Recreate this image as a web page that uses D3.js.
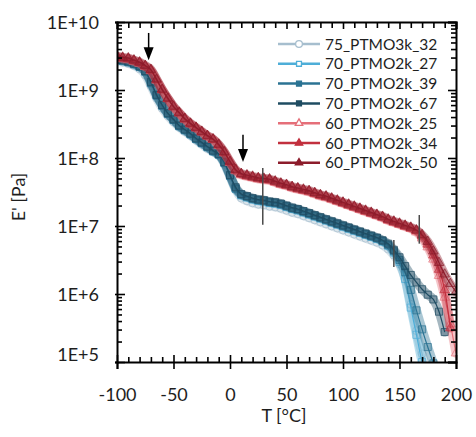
<!DOCTYPE html>
<html>
<head>
<meta charset="utf-8">
<script src="https://cdn.jsdelivr.net/npm/d3@7"></script>
<style>
  html, body { margin: 0; padding: 0; background: #fff; }
  svg { display: block; }
  text { font-family: Lato, "Open Sans", sans-serif; }
</style>
</head>
<body>
<svg id="chart" width="476" height="437"></svg>
<script>
// ---------------- data (log10 of E' in Pa) ----------------
const temps = [-100,-95,-90,-85,-80,-75,-70,-65,-60,-55,-50,-45,-40,-35,-30,-25,-20,-15,-10,-5,
  0,5,10,15,20,25,30,35,40,45,50,55,60,65,70,75,80,85,90,95,100,105,110,115,120,125,130,135,140,145,
  150,155,160,165,170,175,180,185,190,195,200];

const s75_PTMO3k_32 = [9.42,9.41,9.39,9.36,9.31,9.22,9.06,8.88,8.73,8.62,8.53,8.45,8.39,8.33,8.26,8.20,8.14,8.09,8.04,7.91,
  7.72,7.53,7.41,7.37,7.34,7.32,7.31,7.29,7.28,7.26,7.23,7.20,7.18,7.15,7.12,7.09,7.06,7.03,7.00,6.97,6.94,6.91,6.88,6.85,6.82,6.79,6.76,6.72,6.66,6.57,
  6.44,6.22,5.85,5.46,5.12,4.85,null,null,null,null,null];
const s70_PTMO2k_27 = [9.44,9.43,9.41,9.38,9.34,9.27,9.11,8.92,8.77,8.65,8.56,8.47,8.41,8.35,8.28,8.22,8.16,8.10,8.05,7.93,
  7.74,7.55,7.45,7.42,7.39,7.37,7.36,7.34,7.33,7.31,7.28,7.25,7.23,7.20,7.17,7.14,7.11,7.08,7.05,7.02,6.99,6.96,6.93,6.90,6.87,6.84,6.81,6.77,6.71,6.61,
  6.47,6.22,5.80,5.40,5.00,4.70,null,null,null,null,null];
const s70_PTMO2k_39 = [9.44,9.43,9.41,9.38,9.34,9.27,9.10,8.92,8.77,8.65,8.56,8.47,8.41,8.35,8.28,8.22,8.16,8.10,8.05,7.93,
  7.74,7.55,7.46,7.43,7.40,7.38,7.37,7.35,7.34,7.32,7.29,7.26,7.24,7.21,7.18,7.15,7.12,7.09,7.06,7.03,7.00,6.97,6.94,6.91,6.88,6.85,6.82,6.78,6.72,6.63,
  6.50,6.32,6.06,5.76,5.48,5.22,4.98,null,null,null,null];
const s70_PTMO2k_67 = [9.45,9.44,9.42,9.39,9.35,9.28,9.12,8.93,8.78,8.66,8.57,8.48,8.42,8.36,8.29,8.23,8.17,8.11,8.06,7.94,
  7.75,7.57,7.47,7.44,7.41,7.39,7.38,7.36,7.35,7.33,7.30,7.27,7.25,7.22,7.19,7.16,7.13,7.10,7.07,7.04,7.01,6.98,6.95,6.92,6.89,6.86,6.83,6.79,6.74,6.65,
  6.54,6.41,6.28,6.17,6.07,5.99,5.92,5.74,5.44,null,null];
const s60_PTMO2k_25 = [9.48,9.46,9.45,9.42,9.39,9.34,9.28,9.14,9.00,8.87,8.75,8.66,8.57,8.50,8.44,8.38,8.32,8.27,8.18,8.07,
  7.93,7.81,7.75,7.73,7.71,7.69,7.68,7.67,7.64,7.61,7.59,7.56,7.54,7.52,7.50,7.47,7.44,7.42,7.39,7.36,7.33,7.30,7.27,7.24,7.21,7.18,7.15,7.12,7.08,7.05,
  7.02,6.99,6.96,6.91,6.82,6.69,6.51,6.27,5.95,5.56,5.13];
const s60_PTMO2k_34 = [9.49,9.47,9.46,9.43,9.40,9.35,9.29,9.15,9.00,8.87,8.75,8.66,8.57,8.50,8.44,8.38,8.32,8.27,8.19,8.08,
  7.94,7.82,7.76,7.74,7.72,7.70,7.69,7.68,7.65,7.62,7.60,7.57,7.55,7.53,7.51,7.48,7.45,7.43,7.40,7.37,7.34,7.31,7.28,7.25,7.22,7.19,7.16,7.13,7.09,7.06,
  7.03,7.00,6.97,6.93,6.85,6.73,6.57,6.36,6.06,5.50,null];
const s60_PTMO2k_50 = [9.50,9.48,9.47,9.44,9.41,9.36,9.30,9.16,9.01,8.88,8.76,8.67,8.58,8.51,8.45,8.39,8.33,8.28,8.20,8.09,
  7.95,7.83,7.77,7.75,7.73,7.71,7.70,7.69,7.66,7.63,7.61,7.58,7.56,7.54,7.52,7.49,7.46,7.44,7.41,7.38,7.35,7.32,7.29,7.26,7.23,7.20,7.17,7.14,7.10,7.07,
  7.04,7.01,6.98,6.94,6.87,6.77,6.63,6.46,6.29,6.15,6.03];

const seriesNames = ["75_PTMO3k_32","70_PTMO2k_27","70_PTMO2k_39","70_PTMO2k_67","60_PTMO2k_25","60_PTMO2k_34","60_PTMO2k_50"];
const seriesValues = [s75_PTMO3k_32, s70_PTMO2k_27, s70_PTMO2k_39, s70_PTMO2k_67, s60_PTMO2k_25, s60_PTMO2k_34, s60_PTMO2k_50];
const seriesColors = ["#a6bece","#4eaed8","#2b7393","#1f4c62","#e56f79","#c2303e","#8c1c2b"];
const seriesSymbols = ["circle","square","square","square","triangle","triangle","triangle"];
const seriesFilled = [false,false,true,true,false,true,true];

const xTickValues = [-100,-50,0,50,100,150,200];
const xMinorValues = [-90,-80,-70,-60,-40,-30,-20,-10,10,20,30,40,60,70,80,90,110,120,130,140,160,170,180,190];
const yTickValues = [1e5,1e6,1e7,1e8,1e9,1e10];
const yTickLabels = ["1E+5","1E+6","1E+7","1E+8","1E+9","1E+10"];

// annotations: arrows (T, top E, tip E) and vertical bars (T, top E, bottom E)
const arrowT = [-72, 11.5];
const arrowTopE = [6.9e9, 2.2e8];
const arrowTipE = [2.75e9, 8.7e7];
const barT = [29, 145, 167.5];
const barTopE = [7.1e7, 6.2e6, 1.45e7];
const barBottomE = [1.04e7, 2.5e6, 5.5e6];

// ---------------- chart ----------------
const svg = d3.select("#chart");
const L = 117, R = 456, T = 22, B = 362;
const TXT = "#1e1e1e";
const x = d3.scaleLinear().domain([-100, 200]).range([L, R]);
const y = d3.scaleLog().domain([1e5, 1e10]).range([B, T]);

svg.append("defs").append("clipPath").attr("id", "clip")
  .append("rect").attr("x", L).attr("y", T).attr("width", R - L).attr("height", B - T);

const symbolType = { circle: d3.symbolCircle, square: d3.symbolSquare, triangle: d3.symbolTriangle };
const symbolSize = { circle: 48, square: 50, triangle: 40 };

const plot = svg.append("g").attr("clip-path", "url(#clip)");

seriesValues.forEach((vals, i) => {
  const pts = temps.map((t, k) => ({ t, v: vals[k] })).filter(d => d.v !== null).map(d => ({ t: d.t, e: Math.pow(10, d.v) }));
  const line = d3.line().x(d => x(d.t)).y(d => y(d.e)).curve(d3.curveMonotoneX);
  const g = plot.append("g");
  g.append("path").attr("d", line(pts)).attr("fill", "none")
    .attr("stroke", seriesColors[i]).attr("stroke-width", 9).attr("stroke-opacity", 0.4)
    .attr("stroke-linejoin", "round").attr("stroke-linecap", "round");
  const sym = d3.symbol().type(symbolType[seriesSymbols[i]]).size(symbolSize[seriesSymbols[i]]);
  g.selectAll("path.m").data(pts).join("path").attr("class", "m")
    .attr("transform", d => `translate(${x(d.t)},${y(d.e)})`)
    .attr("d", sym())
    .attr("fill", seriesFilled[i] ? seriesColors[i] : "none")
    .attr("fill-opacity", 0.3)
    .attr("stroke", seriesColors[i]).attr("stroke-width", 1).attr("stroke-opacity", 0.7);
  g.append("path").attr("d", line(pts)).attr("fill", "none")
    .attr("stroke", seriesColors[i]).attr("stroke-width", 1.2);
});

// vertical bars
barT.forEach((t, i) => {
  svg.append("line").attr("x1", x(t)).attr("x2", x(t))
    .attr("y1", y(barTopE[i])).attr("y2", y(barBottomE[i]))
    .attr("stroke", "#4a4a4a").attr("stroke-width", 1.5);
});
// arrows
arrowT.forEach((t, i) => {
  const ax = x(t), y0 = y(arrowTopE[i]), y1 = y(arrowTipE[i]);
  svg.append("line").attr("x1", ax).attr("x2", ax).attr("y1", y0).attr("y2", y1 - 10)
    .attr("stroke", "#000").attr("stroke-width", 1.5);
  svg.append("path").attr("d", `M${ax - 5},${y1 - 13} L${ax + 5},${y1 - 13} L${ax},${y1} Z`).attr("fill", "#000");
});

// axes
const minorLog = [];
for (let p = 5; p < 10; p++) for (let m = 2; m <= 9; m++) minorLog.push(m * Math.pow(10, p));

function styleAxis(g) {
  g.select(".domain").attr("stroke", "#000").attr("stroke-width", 2);
  g.selectAll(".tick line").attr("stroke", "#000").attr("stroke-width", 1.6);
}

// bottom
const gB = svg.append("g").attr("transform", `translate(0,${B})`)
  .call(d3.axisBottom(x).tickValues(xTickValues).tickFormat(d => String(d)).tickSizeOuter(0).tickSize(7))
  .call(styleAxis);
gB.selectAll(".tick line").attr("y1", -7).attr("y2", 7);
gB.selectAll(".tick text").attr("y", 26).attr("dy", "0.71em").attr("font-size", 18).attr("fill", TXT);
svg.append("g").attr("transform", `translate(0,${B})`)
  .call(d3.axisBottom(x).tickValues(xMinorValues).tickFormat("").tickSizeOuter(0).tickSize(-5))
  .call(styleAxis).select(".domain").remove();

// top
svg.append("g").attr("transform", `translate(0,${T})`)
  .call(d3.axisTop(x).tickValues(xTickValues).tickFormat("").tickSizeOuter(0).tickSize(-7))
  .call(styleAxis);
svg.append("g").attr("transform", `translate(0,${T})`)
  .call(d3.axisTop(x).tickValues(xMinorValues).tickFormat("").tickSizeOuter(0).tickSize(-6))
  .call(styleAxis).select(".domain").remove();

// left
const gL = svg.append("g").attr("transform", `translate(${L},0)`)
  .call(d3.axisLeft(y).tickValues(yTickValues).tickFormat((d, i) => yTickLabels[i]).tickSizeOuter(0).tickSize(2))
  .call(styleAxis);
gL.selectAll(".tick line").attr("x1", 8).attr("x2", -2);
gL.selectAll(".tick text").attr("x", -18).attr("font-size", 18).attr("fill", TXT)
  .attr("dy", d => d === 1e5 ? "-0.1em" : "0.35em");
svg.append("g").attr("transform", `translate(${L},0)`)
  .call(d3.axisLeft(y).tickValues(minorLog).tickFormat("").tickSizeOuter(0).tickSize(-5))
  .call(styleAxis).select(".domain").remove();

// right
svg.append("g").attr("transform", `translate(${R},0)`)
  .call(d3.axisRight(y).tickValues(yTickValues).tickFormat("").tickSizeOuter(0).tickSize(-8))
  .call(styleAxis);
svg.append("g").attr("transform", `translate(${R},0)`)
  .call(d3.axisRight(y).tickValues(minorLog).tickFormat("").tickSizeOuter(0).tickSize(-5))
  .call(styleAxis).select(".domain").remove();

// axis titles
svg.append("text").attr("x", 284).attr("y", 422).attr("text-anchor", "middle")
  .attr("font-size", 18).attr("fill", TXT).text("T [°C]");
svg.append("text").attr("transform", "translate(25,197) rotate(-90)").attr("text-anchor", "middle")
  .attr("font-size", 18).attr("fill", TXT).text("E' [Pa]");

// legend
const lg = svg.append("g");
seriesNames.forEach((name, i) => {
  const ly = 44 + i * 19.8;
  lg.append("line").attr("x1", 278).attr("x2", 320).attr("y1", ly).attr("y2", ly)
    .attr("stroke", seriesColors[i]).attr("stroke-width", 2.5);
  lg.append("path").attr("transform", `translate(299,${ly})`)
    .attr("d", d3.symbol().type(symbolType[seriesSymbols[i]]).size(seriesSymbols[i] === "circle" ? 36 : 24)())
    .attr("fill", seriesFilled[i] ? seriesColors[i] : "#fff")
    .attr("stroke", seriesColors[i]).attr("stroke-width", 1.3);
  lg.append("text").attr("x", 325).attr("y", ly).attr("dy", "0.36em")
    .attr("font-size", 15.5).attr("fill", TXT).text(name);
});
</script>
</body>
</html>
